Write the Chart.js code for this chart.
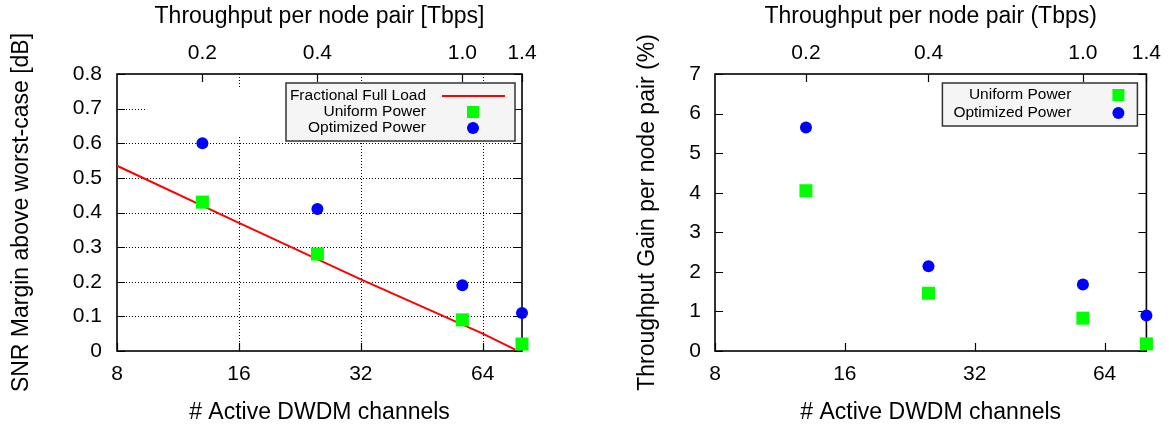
<!DOCTYPE html>
<html><head><meta charset="utf-8">
<script src="https://cdn.jsdelivr.net/npm/chart.js@4"></script>
<style>
html,body{margin:0;padding:0;background:#fff;}
#wrap{position:relative;width:1169px;height:426px;overflow:hidden;}
#c1{position:absolute;left:0;top:0;}
#c2{position:absolute;left:580px;top:0;}
</style></head><body>
<div id="wrap">
<canvas id="c1" width="580" height="426"></canvas>
<canvas id="c2" width="589" height="426"></canvas>
</div>
<script>
// ---------- data ----------
const bottomTicks = [8, 16, 32, 64];
const bottomTickLabels = ['8', '16', '32', '64'];
const topTickChannels = [13, 25, 57, 80];
const topTickLabels = ['0.2', '0.4', '1.0', '1.4'];
const channels = [13, 25, 57, 80];
const snrUniform = [0.43, 0.28, 0.09, 0.02];
const snrOptimized = [0.60, 0.41, 0.19, 0.11];
const fullLoadChannels = [8, 16, 32, 64, 77];
const fullLoadSnr = [0.535, 0.37, 0.207, 0.05, 0.004];
const snrTicks = [0, 0.1, 0.2, 0.3, 0.4, 0.5, 0.6, 0.7, 0.8];
const snrTickLabels = ['0', '0.1', '0.2', '0.3', '0.4', '0.5', '0.6', '0.7', '0.8'];
const gainUniform = [4.05, 1.46, 0.83, 0.18];
const gainOptimized = [5.65, 2.14, 1.68, 0.90];
const gainTicks = [0, 1, 2, 3, 4, 5, 6, 7];
const gainTickLabels = ['0', '1', '2', '3', '4', '5', '6', '7'];

const FONT = "'Liberation Sans', Arial, Helvetica, sans-serif";
const TICK_SIZE = 21, TITLE_SIZE = 23, LEGEND_SIZE = 15.5;

const pts = (xs, ys) => xs.map((x, i) => ({x: x, y: ys[i]}));

// gnuplot-like frame, inward ticks, dotted grid, key box
const gp = {
  id: 'gp',
  beforeDatasetsDraw(chart, args, o) {
    const ctx = chart.ctx, a = chart.chartArea;
    const xs = chart.scales.x, x2 = chart.scales.x2, ys = chart.scales.y;
    ctx.save();
    if (o.grid) {
      ctx.strokeStyle = '#000'; ctx.lineWidth = 1; ctx.setLineDash([1, 2]);
      ctx.beginPath();
      xs.ticks.forEach(t => {
        const px = Math.round(xs.getPixelForValue(t.value)) + 0.5;
        if (px > a.left + 2 && px < a.right - 2) { ctx.moveTo(px, a.top); ctx.lineTo(px, a.bottom); }
      });
      ys.ticks.forEach(t => {
        const py = Math.round(ys.getPixelForValue(t.value)) + 0.5;
        if (py > a.top + 2 && py < a.bottom - 2) { ctx.moveTo(a.left, py); ctx.lineTo(a.right, py); }
      });
      ctx.stroke();
      ctx.setLineDash([]);
      if (o.mask) {
        ctx.fillStyle = '#fff';
        ctx.fillRect(a.left + o.mask[0], a.top + o.mask[1], o.mask[2], o.mask[3]);
      }
    }
    const L = 8;
    ctx.strokeStyle = '#000'; ctx.lineWidth = 1.2;
    ctx.beginPath();
    xs.ticks.forEach(t => {
      const px = Math.round(xs.getPixelForValue(t.value)) + 0.5;
      ctx.moveTo(px, a.bottom); ctx.lineTo(px, a.bottom - L);
    });
    x2.ticks.forEach(t => {
      const px = Math.round(x2.getPixelForValue(t.value)) + 0.5;
      ctx.moveTo(px, a.top); ctx.lineTo(px, a.top + L);
    });
    ys.ticks.forEach(t => {
      const py = Math.round(ys.getPixelForValue(t.value)) + 0.5;
      ctx.moveTo(a.left, py); ctx.lineTo(a.left + L, py);
      ctx.moveTo(a.right, py); ctx.lineTo(a.right - L, py);
    });
    ctx.stroke();
    ctx.lineWidth = 1.6;
    ctx.strokeRect(a.left, a.top, a.right - a.left, a.bottom - a.top);
    ctx.restore();
  },
  afterDraw(chart, args, o) {
    const K = o.key; if (!K) return;
    const a = chart.chartArea, ctx = chart.ctx;
    const bx = a.right - K.right - K.w, by = a.top + K.top;
    ctx.save();
    ctx.fillStyle = '#f5f5f5'; ctx.fillRect(bx, by, K.w, K.h);
    ctx.strokeStyle = '#333'; ctx.lineWidth = 1.5; ctx.strokeRect(bx, by, K.w, K.h);
    ctx.font = LEGEND_SIZE + 'px ' + FONT;
    ctx.textAlign = 'right'; ctx.textBaseline = 'middle';
    chart.data.datasets.forEach((ds, i) => {
      const ry = by + K.firstRow + i * K.rowGap;
      ctx.fillStyle = '#000';
      ctx.fillText(ds.label, bx + K.textRight, ry);
      const mx = bx + K.markerX;
      if (ds.showLine) {
        ctx.strokeStyle = ds.borderColor; ctx.lineWidth = ds.borderWidth;
        ctx.beginPath(); ctx.moveTo(mx - 31, ry); ctx.lineTo(mx + 32, ry); ctx.stroke();
      } else if (ds.pointStyle === 'rect') {
        ctx.fillStyle = ds.backgroundColor; ctx.fillRect(mx - 6, ry - 6, 12, 12);
      } else {
        ctx.fillStyle = ds.backgroundColor; ctx.beginPath(); ctx.arc(mx, ry, 6, 0, Math.PI * 2); ctx.fill();
      }
    });
    ctx.restore();
  }
};

function axisX(title, titlePad) {
  return {
    type: 'logarithmic', position: 'bottom', min: 8, max: 80, bounds: 'data',
    afterBuildTicks: s => { s.ticks = bottomTicks.map(v => ({value: v})); },
    afterFit: s => { s.height = 75; },
    ticks: {autoSkip: false, maxRotation: 0, minRotation: 0, padding: 11, color: '#000',
            font: {family: FONT, size: TICK_SIZE}, callback: (v, i) => bottomTickLabels[i]},
    grid: {display: false, drawTicks: false},
    border: {display: false},
    title: {display: true, text: title, color: '#000', font: {family: FONT, size: TITLE_SIZE},
            padding: {top: titlePad, bottom: 0}}
  };
}
function axisX2(title) {
  return {
    type: 'logarithmic', position: 'top', min: 8, max: 80, bounds: 'data',
    afterBuildTicks: s => { s.ticks = topTickChannels.map(v => ({value: v})); },
    afterFit: s => { s.height = 74; },
    ticks: {autoSkip: false, maxRotation: 0, minRotation: 0, padding: 8, color: '#000',
            font: {family: FONT, size: TICK_SIZE}, callback: (v, i) => topTickLabels[i]},
    grid: {display: false, drawTicks: false},
    border: {display: false},
    title: {display: true, text: title, color: '#000', font: {family: FONT, size: TITLE_SIZE},
            padding: {top: 3, bottom: 0}}
  };
}
function axisY(title, max, ticks, labels, width, tickPad, titlePad) {
  return {
    type: 'linear', position: 'left', min: 0, max: max,
    afterBuildTicks: s => { s.ticks = ticks.map(v => ({value: v})); },
    afterFit: s => { s.width = width; },
    ticks: {autoSkip: false, padding: tickPad, color: '#000',
            font: {family: FONT, size: TICK_SIZE}, callback: (v, i) => labels[i]},
    grid: {display: false, drawTicks: false},
    border: {display: false},
    title: {display: true, text: title, color: '#000', font: {family: FONT, size: TITLE_SIZE},
            padding: {top: titlePad, bottom: 0}}
  };
}

const commonOpts = (padRight, scales, gpOpts) => ({
  responsive: false, animation: false, devicePixelRatio: 1,
  layout: {padding: {left: 0, right: padRight, top: 0, bottom: 0}},
  plugins: {legend: {display: false}, tooltip: {enabled: false}, gp: gpOpts},
  scales: scales
});

new Chart(document.getElementById('c1'), {
  type: 'scatter',
  data: {datasets: [
    {label: 'Fractional Full Load', data: pts(fullLoadChannels, snrFullLoad = fullLoadSnr), showLine: true,
     borderColor: '#ff0000', borderWidth: 2, pointRadius: 0, order: 3, clip: false},
    {label: 'Uniform Power', data: pts(channels, snrUniform), pointStyle: 'rect', pointRadius: 9.2,
     backgroundColor: '#00ff00', borderWidth: 0, order: 2, clip: false},
    {label: 'Optimized Power', data: pts(channels, snrOptimized), pointStyle: 'circle', pointRadius: 6,
     backgroundColor: '#0000ff', borderWidth: 0, order: 1, clip: false}
  ]},
  options: commonOpts(58, {
    x: axisX('# Active DWDM channels', 4),
    x2: axisX2('Throughput per node pair [Tbps]'),
    y: axisY('SNR Margin above worst-case [dB]', 0.8, snrTicks, snrTickLabels, 117, 15, 8)
  }, {grid: true, mask: [29, 14, 140, 47],
      key: {right: 7, top: 9, w: 229, h: 58, firstRow: 13, rowGap: 16, textRight: 140, markerX: 187}}),
  plugins: [gp]
});

new Chart(document.getElementById('c2'), {
  type: 'scatter',
  data: {datasets: [
    {label: 'Uniform Power', data: pts(channels, gainUniform), pointStyle: 'rect', pointRadius: 9.2,
     backgroundColor: '#00ff00', borderWidth: 0, order: 2, clip: false},
    {label: 'Optimized Power', data: pts(channels, gainOptimized), pointStyle: 'circle', pointRadius: 6,
     backgroundColor: '#0000ff', borderWidth: 0, order: 1, clip: false}
  ]},
  options: commonOpts(21, {
    x: axisX('# Active DWDM channels', 4),
    x2: axisX2('Throughput per node pair (Tbps)'),
    y: axisY('Throughput Gain per node pair (%)', 7, gainTicks, gainTickLabels, 135, 14, 54)
  }, {grid: false,
      key: {right: 9, top: 9, w: 195, h: 43, firstRow: 12, rowGap: 18, textRight: 129, markerX: 176}}),
  plugins: [gp]
});
</script>
</body></html>
